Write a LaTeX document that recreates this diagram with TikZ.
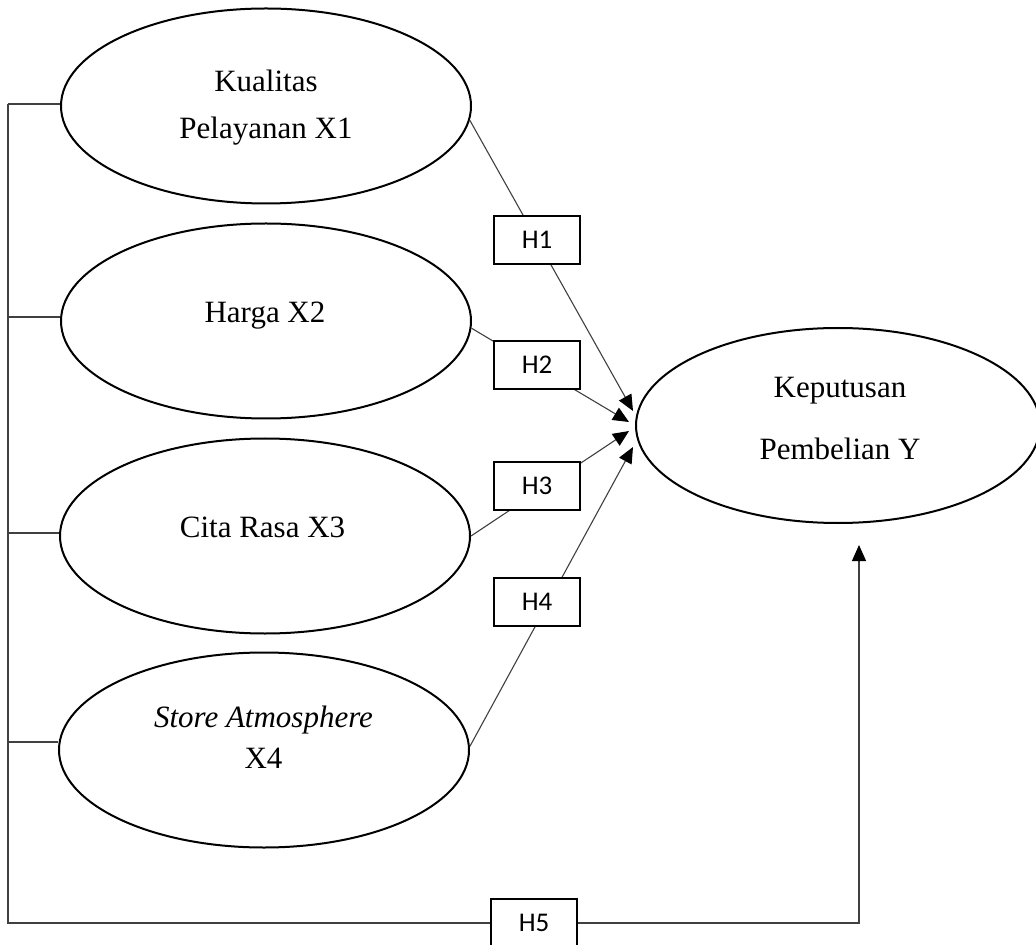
\documentclass[tikz,border=0pt]{standalone}
\usepackage{fontspec}
\setmainfont{Liberation Serif}
\newfontfamily\hfont{Carlito}
\usetikzlibrary{shapes.geometric,arrows.meta}
\begin{document}
\begin{tikzpicture}[x=0.5pt,y=-0.5pt,
  latent/.style={ellipse,draw,line width=1pt,minimum width=205pt,minimum height=97.5pt,inner sep=0pt},
  lbl/.style={align=center,inner sep=0pt,font=\fontsize{15.5}{23.5}\selectfont},
  hbox/.style={draw,line width=1pt,fill=white,minimum width=43pt,minimum height=24pt,inner sep=0pt,font=\hfont\fontsize{13.5}{15}\selectfont},
  conn/.style={draw=black!75,line width=0.55pt},
  arr/.style={conn,-{Triangle[length=8pt,width=7pt,color=black]}}]
\useasboundingbox (0,0) rectangle (1036,945);
\clip (0,0) rectangle (1036,945);

% ellipses
\node[latent] (x1) at (266,106) {};
\node[latent] (x2) at (266,321) {};
\node[latent] (x3) at (265,536) {};
\node[latent] (x4) at (264,750) {};
\node[latent,minimum width=202pt] (y) at (838,425.5) {};

% texts
\node[lbl] (tx1) at (266,107.5) {Kualitas\\Pelayanan X1};
\node[lbl] (tx2) at (265,316) {Harga X2};
\node[lbl] (tx3) at (262.5,527) {Cita Rasa X3};
\node[lbl,font=\fontsize{15.5}{20.5}\selectfont] (tx4) at (263.5,737.5) {\textit{Store Atmosphere}\\X4};
\node[lbl,font=\fontsize{15.5}{31}\selectfont] (ty) at (840,419) {Keputusan\\Pembelian Y};

% coordinates
\coordinate (t1) at (633,411);
\coordinate (t2) at (629,422);
\coordinate (t3) at (629,431);
\coordinate (t4) at (633,447);
\coordinate (b1) at (8,104);
\coordinate (b2) at (8,317);
\coordinate (b3) at (8,533);
\coordinate (b4) at (8,742);
\coordinate (bb) at (8,923);
\coordinate (yin) at (859,545);

% H5 box
\node[hbox] (h5) at (534,923) {H5};

% left bracket and H5 path
\draw[conn] (b1) -- (bb) -- (h5.west);
\draw[conn] (b1) -- (b1 -| x1.west);
\draw[conn] (b2) -- (b2 -| x2.west);
\draw[conn] (b3) -- (b3 -| x3.west);
\draw[conn] (b4) -- (b4 -| x4.west);
\draw[arr] (h5.east) -| (yin);

% hypothesis arrows
\draw[arr] (x1.-4.5) -- (t1);
\draw[arr] (x2.-2) -- (t2);
\draw[arr] (x3.east) -- (t3);
\draw[arr] (x4.1.5) -- (t4);

% hypothesis boxes on top
\node[hbox] (h1) at (537,240) {H1};
\node[hbox] (h2) at (537,365) {H2};
\node[hbox] (h3) at (537,486) {H3};
\node[hbox] (h4) at (537,602) {H4};
\end{tikzpicture}
\end{document}
